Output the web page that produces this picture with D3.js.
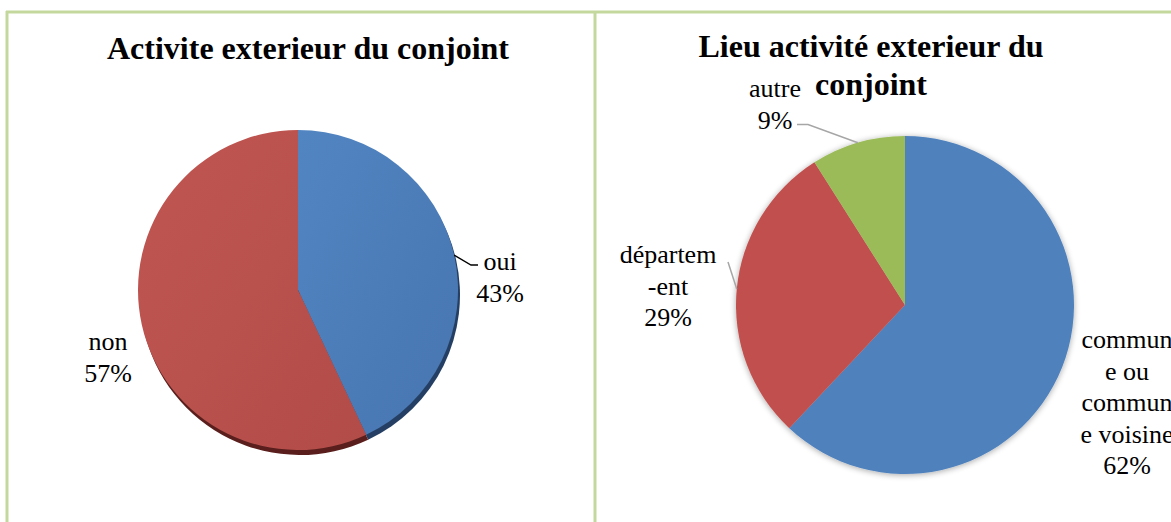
<!DOCTYPE html>
<html>
<head>
<meta charset="utf-8">
<script src="https://cdn.jsdelivr.net/npm/d3@7"></script>
<style>
  body { margin: 0; background: #fff; }
  svg { display: block; }
</style>
</head>
<body>
<div id="chart"></div>
<script>
// data
const leftTitle = ["Activite exterieur du conjoint"];
const leftCats = ["oui", "non"];
const leftVals = [43, 57];
const leftLabelLines = [["oui", "43%"], ["non", "57%"]];

const rightTitle = ["Lieu activité exterieur du", "conjoint"];
const rightCats = ["commune ou commune voisine", "département", "autre"];
const rightVals = [62, 29, 9];
const rightLabelLines = [["commun", "e ou", "commun", "e voisine", "62%"], ["départem", "-ent", "29%"], ["autre", "9%"]];

// layout
const W = 1171, H = 522;
const lineH = 31.5;
const serif = '"Liberation Serif", "DejaVu Serif", serif';

const svg = d3.select('#chart')
  .append('svg')
  .attr('width', W)
  .attr('height', H);

const defs = svg.append('defs');

// soft outer shadow for the right pie
const f = defs.append('filter').attr('id', 'glow')
  .attr('x', '-20%').attr('y', '-20%').attr('width', '140%').attr('height', '140%');
f.append('feGaussianBlur').attr('in', 'SourceAlpha').attr('stdDeviation', 3).attr('result', 'b');
f.append('feOffset').attr('in', 'b').attr('dx', 0).attr('dy', 1).attr('result', 'o');
f.append('feComponentTransfer').attr('in', 'o').attr('result', 'c')
  .append('feFuncA').attr('type', 'linear').attr('slope', 0.35);
const fm = f.append('feMerge');
fm.append('feMergeNode').attr('in', 'c');
fm.append('feMergeNode').attr('in', 'SourceGraphic');

// light gradient for the left (3d) pie
function grad(id, c1, c2) {
  const g = defs.append('linearGradient').attr('id', id)
    .attr('x1', '0%').attr('y1', '0%').attr('x2', '100%').attr('y2', '100%');
  g.append('stop').attr('offset', '0%').attr('stop-color', c1);
  g.append('stop').attr('offset', '100%').attr('stop-color', c2);
}
grad('gBlue', '#5185c2', '#4775b0');
grad('gRed', '#c05652', '#b24c48');

// panel borders
const border = svg.append('g')
  .style('stroke', '#c4d89e')
  .style('stroke-width', 3)
  .style('fill', 'none');
border.append('line').attr('x1', 6).attr('x2', W).attr('y1', 12).attr('y2', 12);
border.append('line').attr('x1', 7).attr('x2', 7).attr('y1', 11).attr('y2', H);
border.append('line').attr('x1', 595).attr('x2', 595).attr('y1', 11).attr('y2', H);

const pie = d3.pie().sort(null).value(d => d);

function titleText(lines, cx, y0, step) {
  svg.append('g').selectAll('text')
    .data(lines)
    .join('text')
    .attr('x', cx)
    .attr('y', (d, i) => y0 + i * step)
    .attr('text-anchor', 'middle')
    .style('font-family', serif)
    .style('font-weight', 'bold')
    .style('font-size', '32px')
    .style('fill', '#000')
    .text(d => d);
}

function labels(g, lines, pos) {
  lines.forEach((ls, i) => {
    g.append('g').selectAll('text')
      .data(ls)
      .join('text')
      .attr('x', pos[i][0])
      .attr('y', (d, j) => pos[i][1] + j * lineH)
      .attr('text-anchor', 'middle')
      .style('font-family', serif)
      .style('font-size', '26px')
      .style('fill', '#000')
      .text(d => d);
  });
}

// ---------- left pie ----------
const L = {cx: 298, cy: 290, r: 160};
titleText(leftTitle, 308, 59, 38);

const gl = svg.append('g').attr('transform', `translate(${L.cx},${L.cy})`);
const arcL = d3.arc().innerRadius(0).outerRadius(L.r);
const edgeL = d3.arc().innerRadius(L.r).outerRadius(L.r);
const leftArcs = pie(leftVals);
const leftFill = ['url(#gBlue)', 'url(#gRed)'];
const leftShadow = ['#243f63', '#5a1f1d'];

gl.append('g')
  .attr('transform', 'translate(2,5)')
  .selectAll('path')
  .data(leftArcs)
  .join('path')
  .attr('d', arcL)
  .style('fill', (d, i) => leftShadow[i]);

gl.append('g').selectAll('path')
  .data(leftArcs)
  .join('path')
  .attr('d', arcL)
  .style('fill', (d, i) => leftFill[i]);

const leftLabelPos = [[202, -20], [-190, 60]];
labels(gl, leftLabelLines, leftLabelPos);

// leader line for "oui"
const pOui = edgeL.centroid(leftArcs[0]);
gl.append('path')
  .attr('d', d3.line()([pOui, [leftLabelPos[0][0] - 29, leftLabelPos[0][1] - 5], [leftLabelPos[0][0] - 22, leftLabelPos[0][1] - 5]]))
  .style('fill', 'none')
  .style('stroke', '#000')
  .style('stroke-width', 1.3);

// ---------- right pie ----------
const R = {cx: 905, cy: 305, r: 169};
titleText(rightTitle, 871, 57, 38);

const gr = svg.append('g').attr('transform', `translate(${R.cx},${R.cy})`);
const arcR = d3.arc().innerRadius(0).outerRadius(R.r);
const edgeR = d3.arc().innerRadius(R.r).outerRadius(R.r);
const rightArcs = pie(rightVals);
const rightColor = d3.scaleOrdinal().domain(rightCats).range(['#4f81bd', '#c0504d', '#9bbb59']);

gr.append('g')
  .attr('filter', 'url(#glow)')
  .selectAll('path')
  .data(rightArcs)
  .join('path')
  .attr('d', arcR)
  .style('fill', (d, i) => rightColor(rightCats[i]));

const rightLabelPos = [[222, 43], [-237, -42], [-130, -208]];
labels(gr, rightLabelLines, rightLabelPos);

// leader lines (grey)
const pDep = edgeR.centroid(rightArcs[1]);
const pAut = edgeR.centroid(rightArcs[2]);
const leaders = [
  [pDep, [rightLabelPos[1][0] + 60, rightLabelPos[1][1] - 1]],
  [pAut, [rightLabelPos[2][0] + 33, rightLabelPos[2][1] + lineH - 4], [rightLabelPos[2][0] + 22, rightLabelPos[2][1] + lineH - 4]]
];
gr.append('g').selectAll('path')
  .data(leaders)
  .join('path')
  .attr('d', d => d3.line()(d))
  .style('fill', 'none')
  .style('stroke', '#a6a6a6')
  .style('stroke-width', 1.5);
</script>
</body>
</html>
